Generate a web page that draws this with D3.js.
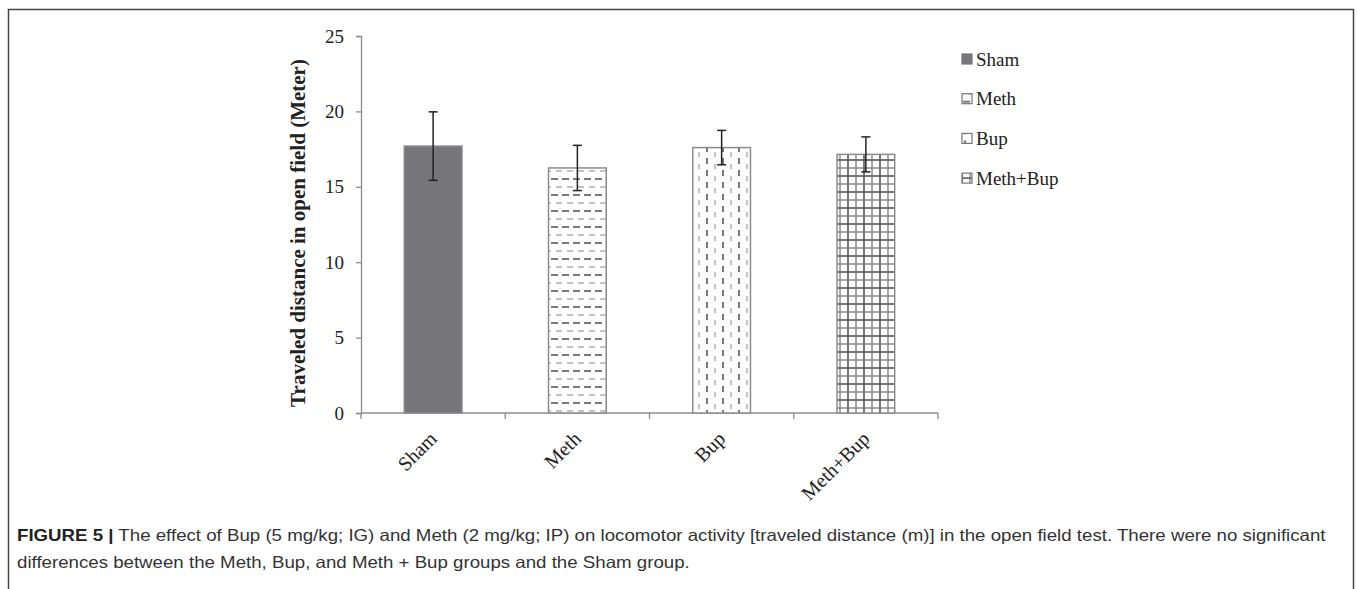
<!DOCTYPE html>
<html>
<head>
<meta charset="utf-8">
<script src="https://cdn.jsdelivr.net/npm/d3@7"></script>
<style>
  html, body { margin: 0; padding: 0; background: #fff; }
  svg { display: block; }
</style>
</head>
<body>
<div id="chart"></div>
<script>
// Datos
const groups = ["Sham", "Meth", "Bup", "Meth+Bup"];
const means = [17.7, 16.25, 17.6, 17.15];
const errors = [2.27, 1.5, 1.14, 1.16];
const yTicks = [0, 5, 10, 15, 20, 25];
const patternIds = ["solid", "hdash", "vdash", "grid"];

const yTitle = "Traveled distance in open field (Meter)";
const captionBold = "FIGURE 5 |";
const captionLines = [
  " The effect of Bup (5 mg/kg; IG) and Meth (2 mg/kg; IP) on locomotor activity [traveled distance (m)] in the open field test. There were no significant",
  "differences between the Meth, Bup, and Meth + Bup groups and the Sham group."
];

const W = 1357, H = 589;
const plot = { left: 361, right: 938, top: 36, bottom: 413 };
const serif = "'Liberation Serif', 'Times New Roman', serif";
const sans = "'Liberation Sans', Arial, sans-serif";

const svg = d3.select("#chart").append("svg")
  .attr("width", W).attr("height", H);

// Patrones de relleno
const defs = svg.append("defs");

const hd = defs.append("pattern").attr("id", "hdash")
  .attr("patternUnits", "userSpaceOnUse").attr("width", 11).attr("height", 16);
hd.append("rect").attr("width", 11).attr("height", 16).attr("fill", "#fff");
hd.append("line").attr("x1", 1).attr("x2", 8).attr("y1", 3).attr("y2", 3)
  .attr("stroke", "#555").attr("stroke-width", 1.6);
hd.append("line").attr("x1", 6).attr("x2", 12).attr("y1", 11).attr("y2", 11)
  .attr("stroke", "#777").attr("stroke-width", 0.9);
hd.append("line").attr("x1", -5).attr("x2", 1).attr("y1", 11).attr("y2", 11)
  .attr("stroke", "#777").attr("stroke-width", 0.9);

const vd = defs.append("pattern").attr("id", "vdash")
  .attr("patternUnits", "userSpaceOnUse").attr("width", 16).attr("height", 12);
vd.append("rect").attr("width", 16).attr("height", 12).attr("fill", "#fff");
vd.append("line").attr("y1", 2).attr("y2", 8).attr("x1", 3).attr("x2", 3)
  .attr("stroke", "#555").attr("stroke-width", 1.6);
vd.append("line").attr("y1", 8).attr("y2", 13).attr("x1", 11).attr("x2", 11)
  .attr("stroke", "#777").attr("stroke-width", 0.9);
vd.append("line").attr("y1", -4).attr("y2", 1).attr("x1", 11).attr("x2", 11)
  .attr("stroke", "#777").attr("stroke-width", 0.9);

const gr = defs.append("pattern").attr("id", "grid")
  .attr("patternUnits", "userSpaceOnUse").attr("width", 16).attr("height", 16);
gr.append("rect").attr("width", 16).attr("height", 16).attr("fill", "#fff");
[[0, 1.8], [8, 1.1], [16, 1.8]].forEach(([p, w]) => {
  gr.append("line").attr("x1", p).attr("x2", p).attr("y1", 0).attr("y2", 16)
    .attr("stroke", "#666").attr("stroke-width", w);
  gr.append("line").attr("y1", p).attr("y2", p).attr("x1", 0).attr("x2", 16)
    .attr("stroke", "#666").attr("stroke-width", w);
});

function fillFor(i) {
  return patternIds[i] === "solid" ? "#77777b" : `url(#${patternIds[i]})`;
}

// Marco exterior
svg.append("path")
  .attr("d", `M8.5,${H + 2} V9.5 H1353.5 V${H + 2}`)
  .attr("fill", "none").attr("stroke", "#444").attr("stroke-width", 1.5);

// Escalas
const x = d3.scaleBand().domain(groups)
  .range([plot.left, plot.right]).paddingInner(0.6).paddingOuter(0.3);
const y = d3.scaleLinear().domain([0, 25]).range([plot.bottom, plot.top]);

// Eje Y
const yAxis = svg.append("g")
  .attr("transform", `translate(${plot.left},0)`)
  .call(d3.axisLeft(y).tickValues(yTicks).tickSize(5).tickPadding(12));
yAxis.select(".domain").attr("stroke", "#8c8c8c").attr("stroke-width", 1.3);
yAxis.selectAll(".tick line").attr("stroke", "#8c8c8c").attr("stroke-width", 1.3);
yAxis.selectAll(".tick text")
  .attr("font-family", serif).attr("font-size", 19).attr("fill", "#222");

// Eje X
const xAxis = svg.append("g")
  .attr("transform", `translate(0,${plot.bottom})`)
  .call(d3.axisBottom(x).tickSize(0).tickFormat(""));
xAxis.select(".domain").attr("stroke", "#8c8c8c").attr("stroke-width", 1.3)
  .attr("d", `M${plot.left},0H${plot.right}`);
xAxis.selectAll(".tick").remove();
const boundaries = d3.range(groups.length + 1).map(i => plot.left + i * (plot.right - plot.left) / groups.length);
xAxis.selectAll(".sep").data(boundaries).enter().append("line")
  .attr("x1", d => d).attr("x2", d => d).attr("y1", 0).attr("y2", 6)
  .attr("stroke", "#8c8c8c").attr("stroke-width", 1.3);

// Etiquetas de categorías
svg.selectAll(".xlabel").data(groups).enter().append("text")
  .attr("class", "xlabel")
  .attr("transform", d => `translate(${x(d) + x.bandwidth() / 2 + 5},${plot.bottom + 27}) rotate(-45)`)
  .attr("text-anchor", "end")
  .attr("font-family", serif).attr("font-size", 20).attr("fill", "#222")
  .text(d => d);

// Título del eje Y
svg.append("text")
  .attr("transform", `translate(305,233) rotate(-90)`)
  .attr("text-anchor", "middle")
  .attr("font-family", serif).attr("font-size", 21).attr("font-weight", "bold")
  .attr("fill", "#222")
  .text(yTitle);

// Barras
svg.selectAll(".bar").data(groups).enter().append("rect")
  .attr("class", "bar")
  .attr("x", d => x(d))
  .attr("y", (d, i) => y(means[i]))
  .attr("width", x.bandwidth())
  .attr("height", (d, i) => y(0) - y(means[i]))
  .attr("fill", (d, i) => fillFor(i))
  .attr("stroke", (d, i) => i === 0 ? "#8a8a8e" : "#8c8c8c")
  .attr("stroke-width", 1.5);

// Barras de error
const eb = svg.selectAll(".err").data(groups).enter().append("g")
  .attr("class", "err")
  .attr("stroke", "#222").attr("stroke-width", 1.5);
eb.append("line")
  .attr("x1", d => x(d) + x.bandwidth() / 2).attr("x2", d => x(d) + x.bandwidth() / 2)
  .attr("y1", (d, i) => y(means[i] + errors[i]))
  .attr("y2", (d, i) => y(means[i] - errors[i]));
[1, -1].forEach(s => {
  eb.append("line")
    .attr("x1", d => x(d) + x.bandwidth() / 2 - 4.5)
    .attr("x2", d => x(d) + x.bandwidth() / 2 + 4.5)
    .attr("y1", (d, i) => y(means[i] + s * errors[i]))
    .attr("y2", (d, i) => y(means[i] + s * errors[i]));
});

// Leyenda
const legend = svg.append("g").attr("transform", "translate(962,59)");
const items = legend.selectAll(".item").data(groups).enter().append("g")
  .attr("transform", (d, i) => `translate(0,${i * 39.7})`);
items.append("rect")
  .attr("x", 0).attr("y", -5).attr("width", 10).attr("height", 10)
  .attr("fill", (d, i) => fillFor(i))
  .attr("stroke", (d, i) => i === 0 ? "#77777b" : "#777")
  .attr("stroke-width", 1.2);
items.append("text")
  .attr("x", 14).attr("y", 6.5)
  .attr("font-family", serif).attr("font-size", 19).attr("fill", "#222")
  .text(d => d);

// Pie de figura (escalado horizontal para ocupar el mismo ancho)
const capG = svg.append("g");
const cap1 = capG.append("text")
  .attr("x", 0).attr("y", 541)
  .attr("font-family", sans).attr("font-size", 16.5).attr("fill", "#333");
cap1.append("tspan").attr("font-weight", "bold").attr("fill", "#222").text(captionBold);
cap1.append("tspan").text(captionLines[0]);
capG.append("text")
  .attr("x", 0).attr("y", 568)
  .attr("font-family", sans).attr("font-size", 16.5).attr("fill", "#333")
  .text(captionLines[1]);
const len1 = cap1.node().getComputedTextLength();
const sx = 1310 / len1;
capG.attr("transform", `translate(17,0) scale(${sx},1)`);
</script>
</body>
</html>
